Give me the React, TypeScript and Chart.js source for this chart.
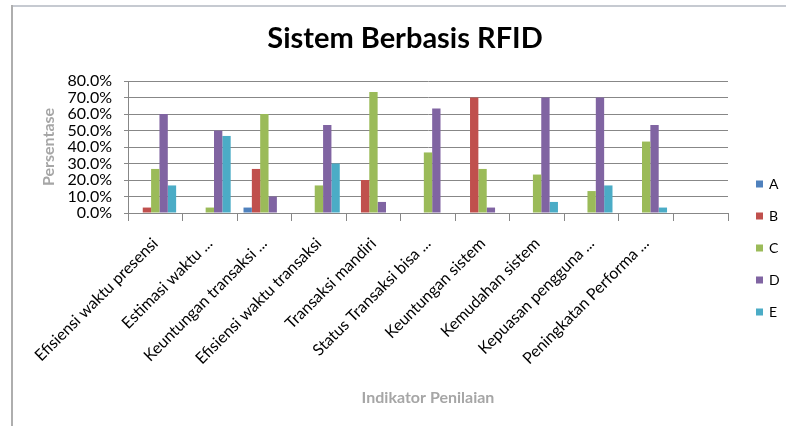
import React, { useEffect, useRef } from "react";
import { Chart, registerables } from "chart.js";

Chart.register(...registerables);

const categories = [
  "Efisiensi waktu presensi",
  "Estimasi waktu ...",
  "Keuntungan transaksi ...",
  "Efisiensi waktu transaksi",
  "Transaksi mandiri",
  "Status Transaksi bisa ...",
  "Keuntungan sistem",
  "Kemudahan sistem",
  "Kepuasan pengguna ...",
  "Peningkatan Performa ...",
  "",
];

const seriesNames = ["A", "B", "C", "D", "E"];
const seriesA = [0, 0, 3.3, 0, 0, 0, 0, 0, 0, 0, null];
const seriesB = [3.3, 0, 26.7, 0, 20, 0, 70, 0, 0, 0, null];
const seriesC = [26.7, 3.3, 60, 16.7, 73.3, 36.7, 26.7, 23.3, 13.3, 43.3, null];
const seriesD = [60, 50, 10, 53.3, 6.7, 63.3, 3.3, 70, 70, 53.3, null];
const seriesE = [16.7, 46.7, 0, 30, 0, 0, 0, 6.7, 16.7, 3.3, null];
const seriesColors = ["#4F81BD", "#C0504D", "#9BBB59", "#8064A2", "#4BACC6"];

const chartTitle = "Sistem Berbasis RFID";
const yTitle = "Persentase";
const xTitle = "Indikator Penilaian";

const FONT = "Lato";
const GRID = "#878787";

const framePlugin = {
  id: "frame",
  beforeDraw(chart: any) {
    const ctx = chart.ctx;
    ctx.save();
    ctx.fillStyle = "#ffffff";
    ctx.fillRect(0, 0, chart.width, chart.height);
    ctx.lineWidth = 2;
    ctx.strokeStyle = "#c6cad1";
    ctx.beginPath();
    ctx.moveTo(11, 6);
    ctx.lineTo(chart.width, 6);
    ctx.stroke();
    ctx.strokeStyle = "#aeaeae";
    ctx.beginPath();
    ctx.moveTo(12, 5);
    ctx.lineTo(12, chart.height);
    ctx.stroke();
    ctx.restore();
  },
};

const titlePlugin = {
  id: "mainTitle",
  afterDraw(chart: any) {
    const ctx = chart.ctx;
    ctx.save();
    ctx.font = `bold 29px ${FONT}`;
    ctx.fillStyle = "#000000";
    ctx.textAlign = "center";
    ctx.textBaseline = "middle";
    ctx.fillText(chartTitle, 405, 39);
    ctx.restore();
  },
};

const legendPlugin = {
  id: "sideLegend",
  afterDraw(chart: any) {
    const ctx = chart.ctx;
    ctx.save();
    ctx.font = `14px ${FONT}`;
    ctx.textAlign = "left";
    ctx.textBaseline = "middle";
    chart.data.datasets.forEach((ds: any, i: number) => {
      const yc = 184 + i * 32;
      ctx.fillStyle = ds.backgroundColor;
      ctx.fillRect(756, yc - 3.5, 7, 7);
      ctx.fillStyle = "#000000";
      ctx.fillText(ds.label, 769, yc + 0.5);
    });
    ctx.restore();
  },
};

export default function App() {
  const ref = useRef<HTMLCanvasElement>(null);
  useEffect(() => {
    if (!ref.current) return;
    const seriesData = [seriesA, seriesB, seriesC, seriesD, seriesE];
    const chart = new Chart(ref.current, {
      type: "bar",
      data: {
        labels: categories,
        datasets: seriesNames.map((name, i) => ({
          label: name,
          data: seriesData[i],
          backgroundColor: seriesColors[i],
          borderWidth: 0,
          categoryPercentage: 0.765,
          barPercentage: 1,
        })),
      },
      options: {
        responsive: false,
        animation: false,
        layout: { padding: { left: 34, right: 58, top: 81, bottom: 14 } },
        plugins: {
          legend: { display: false },
          title: { display: false },
          tooltip: { enabled: false },
        },
        scales: {
          x: {
            offset: true,
            grid: {
              offset: true,
              drawOnChartArea: false,
              drawTicks: true,
              tickLength: 8,
              color: GRID,
            },
            border: { display: true, color: GRID },
            ticks: {
              autoSkip: false,
              minRotation: 45,
              maxRotation: 45,
              padding: 13,
              color: "#000000",
              font: { family: FONT, size: 16 },
            },
            title: {
              display: true,
              text: xTitle,
              color: "#a6a6a6",
              font: { family: FONT, size: 16, weight: "bold" },
              padding: { top: 0, bottom: 4.4 },
            },
            afterFit(scale: any) {
              scale.height = 199;
            },
          },
          y: {
            min: 0,
            max: 80,
            grid: { color: GRID, tickLength: 4, drawTicks: true },
            border: { display: true, color: GRID },
            ticks: {
              stepSize: 10,
              autoSkip: false,
              padding: 12,
              color: "#000000",
              font: { family: FONT, size: 16, lineHeight: 1 },
              callback: (v: any) => Number(v).toFixed(1) + "%",
            },
            title: {
              display: true,
              text: yTitle,
              color: "#a6a6a6",
              font: { family: FONT, size: 16, weight: "bold" },
              padding: { top: 5.4, bottom: 0 },
            },
            afterFit(scale: any) {
              scale.width = 94;
            },
          },
        },
      },
      plugins: [framePlugin, titlePlugin, legendPlugin],
    });
    return () => chart.destroy();
  }, []);

  return (
    <div style={{ position: "fixed", left: 0, top: 0, width: 786, height: 426, background: "#fff" }}>
      <canvas ref={ref} width={786} height={426} />
    </div>
  );
}
